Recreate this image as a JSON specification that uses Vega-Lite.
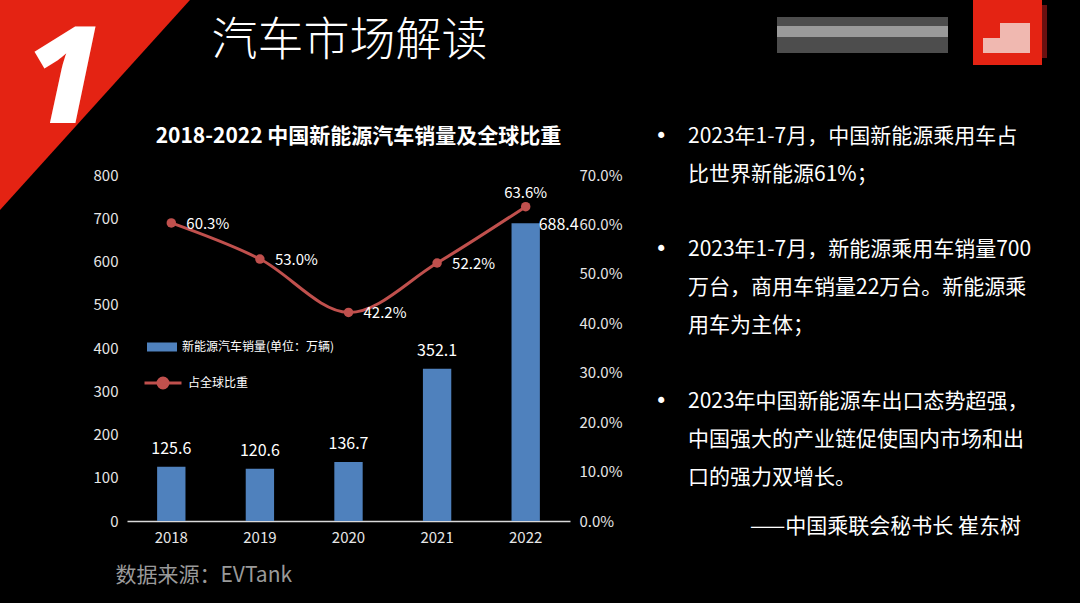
{
  "$schema": "https://vega.github.io/schema/vega-lite/v6.json",
  "width": 443,
  "height": 346,
  "autosize": {"type": "none"},
  "padding": {"left": 127, "top": 175, "right": 510, "bottom": 82},
  "background": "#000000",
  "config": {"view": {"stroke": null}, "font": "Noto Sans CJK SC"},
  "layer": [
    {
      "data": {"values": [{"item": "slide"}]},
      "encoding": {
        "x": {"datum": 0, "type": "quantitative", "scale": {"domain": [0, 1], "range": [-127, 953]}, "axis": null},
        "y": {"datum": 0, "type": "quantitative", "scale": {"domain": [0, 1], "range": [-175, 428]}, "axis": null}
      },
      "layer": [
        {"mark": {"type": "point", "shape": "M-0.01,-0.01L0.199,-0.01L-0.01,0.221Z", "size": 4000000, "filled": true, "fill": "#e42313", "opacity": 1, "strokeWidth": 0}},
        {"mark": {"type": "point", "shape": "M0.777,0.017L0.948,0.017L0.948,0.053L0.777,0.053Z", "size": 4000000, "filled": true, "fill": "#4d4d4d", "opacity": 1, "strokeWidth": 0}},
        {"mark": {"type": "point", "shape": "M0.777,0.026L0.948,0.026L0.948,0.037L0.777,0.037Z", "size": 4000000, "filled": true, "fill": "#9a9a9a", "opacity": 1, "strokeWidth": 0}},
        {"mark": {"type": "point", "shape": "M0.973,-0.005L1.042,-0.005L1.042,0.065L0.973,0.065Z", "size": 4000000, "filled": true, "fill": "#e42313", "opacity": 1, "strokeWidth": 0}},
        {"mark": {"type": "point", "shape": "M1.042,0.005L1.047,0.005L1.047,0.058L1.042,0.058Z", "size": 4000000, "filled": true, "fill": "#6a1010", "opacity": 1, "strokeWidth": 0}},
        {"mark": {"type": "point", "shape": "M0.983,0.038L1.03,0.038L1.03,0.053L0.983,0.053Z M1.0,0.023L1.03,0.023L1.03,0.038L1.0,0.038Z", "size": 4000000, "filled": true, "fill": "#f0b8b0", "opacity": 1, "strokeWidth": 0}}
      ]
    },
    {
      "data": {"values": [
        {"year": "2018", "sales": 125.6, "share": 0.603},
        {"year": "2019", "sales": 120.6, "share": 0.530},
        {"year": "2020", "sales": 136.7, "share": 0.422},
        {"year": "2021", "sales": 352.1, "share": 0.522},
        {"year": "2022", "sales": 688.4, "share": 0.636}
      ]},
      "encoding": {
        "x": {
          "field": "year", "type": "ordinal",
          "scale": {"paddingInner": 0.68, "paddingOuter": 0.34},
          "axis": {
            "title": "数据来源：EVTank",
            "titleColor": "#9a9a9a", "titleFontSize": 21, "titleFontWeight": "normal",
            "titleAlign": "left", "titleBaseline": "middle", "titleX": -12, "titleY": 54,
            "labelAngle": 0, "labelColor": "#e6e6e6", "labelFontSize": 15, "labelPadding": 9,
            "ticks": false, "tickSize": 0, "domainColor": "#d9d9d9", "domainWidth": 1.5, "grid": false
          }
        }
      },
      "layer": [
        {
          "encoding": {
            "y": {
              "field": "sales", "type": "quantitative",
              "scale": {"domain": [0, 800]},
              "axis": {
                "orient": "left", "values": [0, 100, 200, 300, 400, 500, 600, 700, 800],
                "grid": false, "domain": false, "ticks": false, "tickSize": 0,
                "labelPadding": 9, "labelColor": "#e6e6e6", "labelFontSize": 15,
                "title": "汽车市场解读", "titleFont": "Noto Sans CJK SC", "titleFontSize": 46,
                "titleFontWeight": 300, "titleColor": "#ffffff", "titleAngle": 0,
                "titleAlign": "left", "titleBaseline": "middle", "titleX": 84, "titleY": -135
              }
            }
          },
          "layer": [
            {
              "mark": {"type": "bar"},
              "encoding": {
                "fill": {
                  "datum": "新能源汽车销量(单位：万辆)", "type": "nominal",
                  "scale": {"range": ["#4f81bd"]},
                  "legend": {
                    "title": null, "orient": "none", "legendX": 20, "legendY": 157,
                    "padding": 0, "labelColor": "#ffffff", "labelFontSize": 12, "labelOffset": 5,
                    "symbolType": "M-1,-0.3L1,-0.3L1,0.3L-1,0.3Z", "symbolSize": 900, "symbolStrokeWidth": 0
                  }
                }
              }
            },
            {
              "transform": [{"filter": "datum.year != '2022'"}],
              "mark": {"type": "text", "baseline": "bottom", "dy": -10, "fontSize": 16, "color": "#ffffff"},
              "encoding": {"text": {"field": "sales", "type": "quantitative", "format": ".1f"}}
            },
            {
              "transform": [{"filter": "datum.year == '2022'"}],
              "mark": {"type": "text", "align": "left", "baseline": "middle", "dx": 13, "dy": 2, "fontSize": 16, "color": "#ffffff"},
              "encoding": {"text": {"field": "sales", "type": "quantitative", "format": ".1f"}}
            }
          ]
        },
        {
          "encoding": {
            "y": {
              "field": "share", "type": "quantitative",
              "scale": {"domain": [0, 0.7]},
              "axis": {
                "orient": "right", "values": [0, 0.1, 0.2, 0.3, 0.4, 0.5, 0.6, 0.7], "format": ".1%",
                "grid": false, "domain": false, "ticks": false, "tickSize": 0, "zindex": 2,
                "labelPadding": 9, "labelColor": "#e6e6e6", "labelFontSize": 15,
                "title": "1", "titleFont": "Open Sans", "titleFontSize": 134,
                "titleFontWeight": 800, "titleFontStyle": "italic", "titleColor": "#ffffff",
                "titleAngle": 0, "titleAlign": "center", "titleBaseline": "middle",
                "titleX": -507, "titleY": -93
              }
            }
          },
          "layer": [
            {
              "mark": {"type": "line", "interpolate": "cardinal", "strokeWidth": 3},
              "encoding": {
                "stroke": {
                  "datum": "占全球比重", "type": "nominal",
                  "scale": {"range": ["#c0504d"]},
                  "legend": {
                    "title": null, "orient": "none", "legendX": 16, "legendY": 188,
                    "padding": 0, "labelColor": "#ffffff", "labelFontSize": 12, "labelOffset": 5,
                    "symbolType": "M-1,0L1,0M-0.27,0A0.27,0.27,0,1,0,0.27,0A0.27,0.27,0,1,0,-0.27,0Z",
                    "symbolSize": 1369, "symbolStrokeWidth": 3,
                    "symbolFillColor": "#c0504d"
                  }
                }
              }
            },
            {
              "mark": {"type": "point", "filled": true, "size": 90, "color": "#c0504d", "opacity": 1}
            },
            {
              "transform": [{"filter": "datum.year != '2022'"}],
              "mark": {"type": "text", "align": "left", "baseline": "middle", "dx": 15, "dy": 1, "fontSize": 15, "color": "#ffffff"},
              "encoding": {"text": {"field": "share", "type": "quantitative", "format": ".1%"}}
            },
            {
              "transform": [{"filter": "datum.year == '2022'"}],
              "mark": {"type": "text", "align": "center", "baseline": "middle", "dy": -14, "fontSize": 15, "color": "#ffffff"},
              "encoding": {"text": {"field": "share", "type": "quantitative", "format": ".1%"}}
            }
          ]
        }
      ],
      "resolve": {"scale": {"y": "independent"}}
    },
    {
      "data": {"values": [
        {"id": "1a", "text": "2023年1-7月，中国新能源乘用车占"},
        {"id": "1b", "text": "比世界新能源61%；"},
        {"id": "2a", "text": "2023年1-7月，新能源乘用车销量700"},
        {"id": "2b", "text": "万台，商用车销量22万台。新能源乘"},
        {"id": "2c", "text": "用车为主体；"},
        {"id": "3a", "text": "2023年中国新能源车出口态势超强，"},
        {"id": "3b", "text": "中国强大的产业链促使国内市场和出"},
        {"id": "3c", "text": "口的强力双增长。"},
        {"id": "sig", "text": "——中国乘联会秘书长 崔东树"}
      ]},
      "encoding": {
        "y": {
          "field": "id", "type": "ordinal",
          "scale": {"type": "point", "domain": ["1a", "1b", "g1", "2a", "2b", "2c", "g2", "3a", "3b", "3c", "sig"], "range": [-38.3, 341], "padding": 0},
          "axis": null
        }
      },
      "layer": [
        {
          "transform": [{"filter": "datum.id != 'sig'"}],
          "mark": {"type": "text", "align": "left", "baseline": "middle", "fontSize": 21, "color": "#ffffff", "font": "Noto Sans CJK SC"},
          "encoding": {
            "x": {
              "datum": "text", "type": "nominal",
              "scale": {"type": "point", "domain": ["bullet", "text"], "range": [528, 561], "padding": 0},
              "axis": {
                "orient": "top", "labels": false, "ticks": false, "domain": false, "grid": false,
                "title": "2018-2022 中国新能源汽车销量及全球比重",
                "titleFont": "Noto Sans CJK SC", "titleFontSize": 21, "titleFontWeight": "bold",
                "titleColor": "#ffffff", "titleAngle": 0, "titleAlign": "center", "titleBaseline": "middle",
                "titleX": 231, "titleY": -39
              }
            },
            "text": {"field": "text"}
          }
        },
        {
          "transform": [{"filter": "datum.id == '1a' || datum.id == '2a' || datum.id == '3a'"}],
          "mark": {"type": "text", "align": "left", "baseline": "middle", "fontSize": 21, "color": "#ffffff", "font": "DejaVu Sans"},
          "encoding": {
            "x": {"datum": "bullet", "type": "nominal"},
            "text": {"value": "•"}
          }
        },
        {
          "transform": [{"filter": "datum.id == 'sig'"}],
          "mark": {"type": "text", "align": "right", "baseline": "middle", "dx": 333, "dy": 11, "fontSize": 21, "color": "#ffffff", "font": "Noto Sans CJK SC"},
          "encoding": {
            "x": {"datum": "text", "type": "nominal"},
            "text": {"field": "text"}
          }
        }
      ]
    }
  ],
  "resolve": {"scale": {"x": "independent", "y": "independent"}}
}
